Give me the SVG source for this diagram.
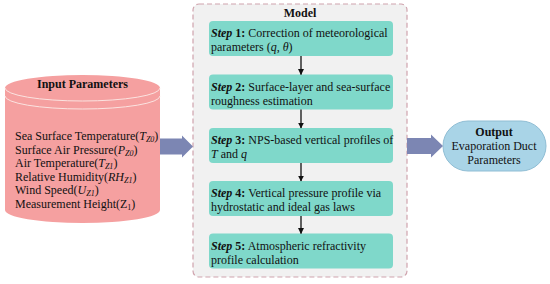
<svg xmlns="http://www.w3.org/2000/svg" width="550" height="284" viewBox="0 0 550 284">
<defs>
<style>
text{font-family:"Liberation Serif","Times New Roman",serif;font-size:12px;fill:#111}
.b{font-weight:bold}
.bi{font-weight:bold;font-style:italic}
.i{font-style:italic}
.sub{font-size:8px;font-style:italic}
.step{fill:#7fd8ca;stroke:none}
.fat{fill:#7c86b3}
.conn{stroke:#111;stroke-width:1.3;fill:none;marker-end:url(#ah)}
</style>
<marker id="ah" viewBox="0 0 10 10" refX="9" refY="5" markerWidth="6" markerHeight="6" orient="auto" markerUnits="userSpaceOnUse">
<path d="M0,0 L10,5 L0,10 z" fill="#111"/>
</marker>
</defs>
<rect width="550" height="284" fill="#fff"/>

<g id="input">
<path d="M5,88 A77.5,13 0 0 1 160,88 L160,210 A77.5,13 0 0 1 5,210 Z" fill="#f5a0a0"/>
<path d="M5,88 A77.5,13 0 0 0 160,88 M5,96 A77.5,13 0 0 0 160,96" fill="none" stroke="#fbe3e0" stroke-width="1"/>
<text class="b" x="82.5" y="88" text-anchor="middle" font-size="12.5">Input Parameters</text>
<text x="15" y="140">Sea Surface Temperature(<tspan class="i">T</tspan><tspan class="sub" dy="2">Z0</tspan><tspan dy="-2">)</tspan></text>
<text x="15" y="153.5">Surface Air Pressure(<tspan class="i">P</tspan><tspan class="sub" dy="2">Z0</tspan><tspan dy="-2">)</tspan></text>
<text x="15" y="167">Air Temperature(<tspan class="i">T</tspan><tspan class="sub" dy="2">Z1</tspan><tspan dy="-2">)</tspan></text>
<text x="15" y="180.5">Relative Humidity(<tspan class="i">RH</tspan><tspan class="sub" dy="2">Z1</tspan><tspan dy="-2">)</tspan></text>
<text x="15" y="194">Wind Speed(<tspan class="i">U</tspan><tspan class="sub" dy="2">Z1</tspan><tspan dy="-2">)</tspan></text>
<text x="15" y="207.5">Measurement Height(Z<tspan font-size="8" dy="2">1</tspan><tspan dy="-2">)</tspan></text>
</g>

<g id="model">
<rect x="193" y="4" width="214" height="273" rx="6" fill="#f1f1f1" stroke="#cfa3ad" stroke-width="1.2" stroke-dasharray="5,3"/>
<text class="b" x="300" y="17" text-anchor="middle" font-size="13">Model</text>
</g>

<g id="step1">
<rect class="step" x="209" y="21" width="184" height="35" rx="4"/>
<text x="211" y="37"><tspan class="bi">Step</tspan><tspan class="b"> 1:</tspan> Correction of meteorological</text>
<text x="211" y="51">parameters (<tspan class="i">q</tspan>, <tspan class="i">θ</tspan>)</text>
</g>
<g id="step2">
<rect class="step" x="209" y="74.5" width="184" height="35" rx="4"/>
<text x="211" y="90.5"><tspan class="bi">Step</tspan><tspan class="b"> 2:</tspan> Surface-layer and sea-surface</text>
<text x="211" y="104.5">roughness estimation</text>
</g>
<g id="step3">
<rect class="step" x="209" y="128" width="184" height="35" rx="4"/>
<text x="211" y="144"><tspan class="bi">Step</tspan><tspan class="b"> 3:</tspan> NPS-based vertical profiles of</text>
<text x="211" y="158"><tspan class="i">T</tspan> and <tspan class="i">q</tspan></text>
</g>
<g id="step4">
<rect class="step" x="209" y="181" width="184" height="35" rx="4"/>
<text x="211" y="197"><tspan class="bi">Step</tspan><tspan class="b"> 4:</tspan> Vertical pressure profile via</text>
<text x="211" y="211">hydrostatic and ideal gas laws</text>
</g>
<g id="step5">
<rect class="step" x="209" y="233.5" width="184" height="35" rx="4"/>
<text x="211" y="249.5"><tspan class="bi">Step</tspan><tspan class="b"> 5:</tspan> Atmospheric refractivity</text>
<text x="211" y="263.5">profile calculation</text>
</g>

<g id="output">
<rect x="443" y="121" width="103" height="50" rx="25" fill="#a9d4e7" stroke="#8fbdd4" stroke-width="1"/>
<text class="b" x="494" y="136" text-anchor="middle" font-size="12.5">Output</text>
<text x="494" y="150" text-anchor="middle">Evaporation Duct</text>
<text x="494" y="164" text-anchor="middle">Parameters</text>
</g>

<g id="connectors">
<path class="fat" d="M160,138.5 L182,138.5 L182,135.5 L193,146.5 L182,157.5 L182,154.5 L160,154.5 Z"/>
<path class="fat" d="M407,138 L431,138 L431,134.5 L443,146 L431,157.5 L431,154 L407,154 Z"/>
<line class="conn" x1="301" y1="56" x2="301" y2="74.5"/>
<line class="conn" x1="301" y1="109.5" x2="301" y2="128"/>
<line class="conn" x1="301" y1="163" x2="301" y2="181"/>
<line class="conn" x1="301" y1="216" x2="301" y2="233.5"/>
</g>
</svg>
